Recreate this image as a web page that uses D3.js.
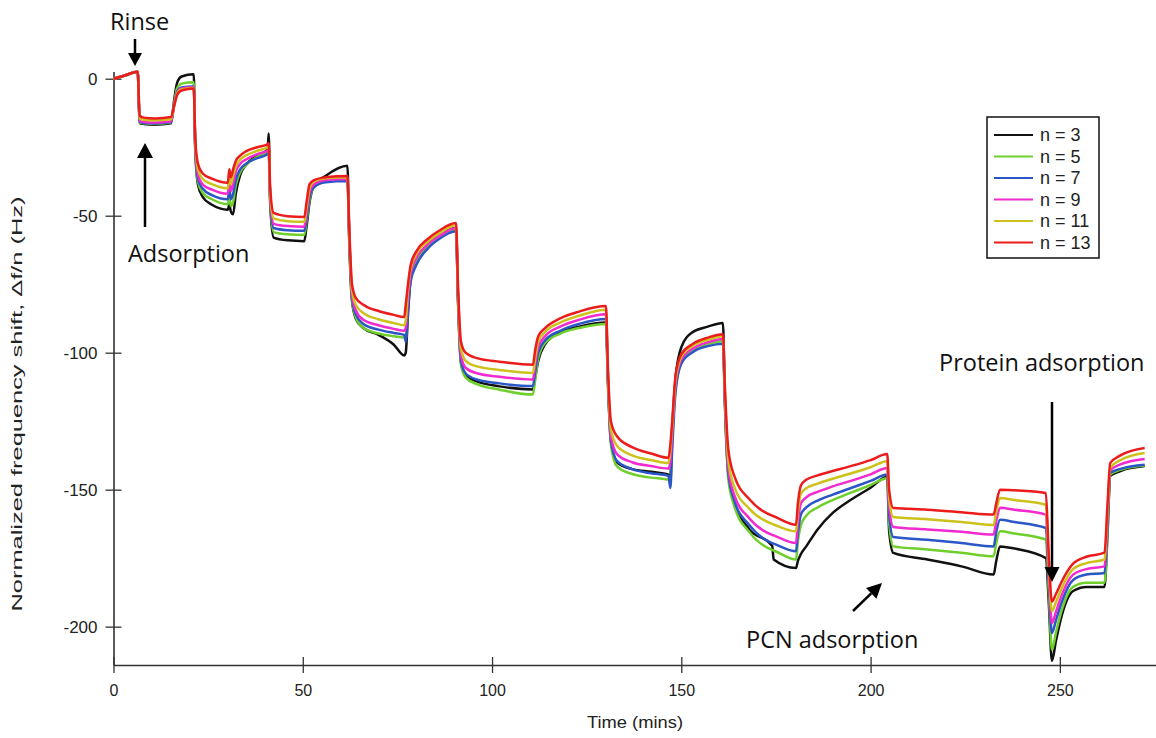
<!doctype html>
<meta charset="utf-8">
<style>
  body { margin: 0; background: #fff; }
  svg { display: block; }
</style>
<body>
<script src="https://d3js.org/d3.v7.min.js"></script>
<script>
// time in minutes, one line per segment of the run
var time = [
  0, 3, 6.4,
  6.9, 8, 11, 15.2,
  16.0, 16.8, 18, 21.2,
  21.6, 22.3, 23.5, 26, 30.2,
  30.6, 31.0, 31.6,
  32.3, 33.5, 35, 38, 40.7, 41.0,
  41.4, 42.3, 46, 50.4,
  51.0, 51.8, 53, 56, 61.8,
  62.3, 63.0, 64, 66, 70, 74, 76.8, 77.2,
  77.8, 78.5, 80, 83, 86, 90.5,
  91.0, 91.8, 93, 96, 102, 110.8,
  111.4, 112.2, 114, 118, 123, 130.1,
  130.6, 131.4, 133, 137, 142, 146.6, 147.1,
  147.6, 148.5, 150, 153, 157, 161,
  161.5, 162.4, 164, 168, 174, 174.4, 180.3,
  180.8, 181.6, 183, 186, 190, 195, 200, 204.4,
  204.9, 206, 215, 224, 232.5,
  233.2, 234.2, 238, 246.3,
  247.1, 247.9, 249, 250.5, 253.5, 257, 261.8,
  262.6, 263.3, 266, 272.4
];

// normalized frequency shift (Hz) for each overtone
var n3 = [
  0, 1.2, 2.5,
  -16.2, -16.5, -16.8, -16.3,
  -8, -1.5, 0.8, 1.6,
  -26, -38.5, -43, -46, -47.8,
  -46, -48.5, -49.5,
  -42, -35, -31.5, -28, -26, -20,
  -46, -58, -59, -59.3,
  -54, -45, -39, -35.5, -31.8,
  -60, -81, -87.5, -91, -93.5, -97, -101, -100,
  -86, -73, -66.5, -60.5, -57, -54.5,
  -80, -103.5, -108, -110.5, -112.3, -113.4,
  -109, -103, -97, -92.5, -90.5, -89,
  -110, -132.5, -140, -142.5, -143.5, -144.5, -145,
  -128, -109, -98, -92.5, -90.5, -89.2,
  -117, -144, -154.5, -164.5, -170.5, -175.5, -178.6,
  -176, -173.5, -170.7, -164.5, -158.5, -153.5, -149.3, -145.3,
  -165, -173.1, -175.5, -178, -181,
  -176, -170.7, -171.5, -175,
  -192, -212.5, -205, -196, -187, -185.5, -185.5,
  -166, -145, -143.2, -141.4
];
var n5 = [
  0, 1.2, 2.5,
  -16, -16.3, -16.5, -16,
  -9, -3.5, -1.8, -1.3,
  -25, -37.5, -41.5, -44, -45.8,
  -43, -46.5, -45,
  -39, -34, -31.5, -28.5, -26.8, -26.5,
  -45, -56, -56.8, -57,
  -52, -44, -39.5, -37, -36.2,
  -60, -80.5, -87, -91, -93, -94, -94.5, -95,
  -82, -72.5, -67, -61, -57.5, -55,
  -81, -104.5, -109, -111.5, -113.5, -115.3,
  -110, -102, -96.5, -93, -91, -89.5,
  -110, -133.5, -141.5, -144.3, -145.6, -146.4, -147.5,
  -132, -113, -103.5, -99, -96.8, -95.8,
  -118, -146, -156, -165.5, -172, -172.2, -175.5,
  -169, -163, -159.5, -156.5, -153.8, -151, -148.3, -145.8,
  -162, -170.7, -171.8, -173, -174.3,
  -169.5, -165.2, -166, -168.2,
  -188, -208.4, -202, -194, -185.5, -184, -184,
  -165, -144.5, -142.8, -141.2
];
var n7 = [
  0, 1.2, 2.5,
  -15.8, -16.2, -16.3, -15.8,
  -9.5, -4.8, -3.2, -2.8,
  -25, -36.5, -40, -42.5, -44,
  -40, -44, -42,
  -37, -33, -31, -29, -27.5, -27,
  -44, -54.5, -55.3, -55.5,
  -51, -43, -39.5, -37.8, -37.3,
  -59, -79.5, -86, -89.5, -91.6, -92.8, -93.5, -96,
  -84, -74, -68, -62, -58.5, -55.7,
  -80, -103, -107.5, -109.8, -111.2, -112.2,
  -107, -100, -95.5, -92, -89.5, -87.7,
  -109, -132, -139.5, -142.5, -144, -145, -149.4,
  -135, -114, -104, -99.8, -97.6, -96.7,
  -117, -144, -154, -163, -169.5, -169.7, -172.5,
  -166, -159, -156.5, -154, -151.8, -149.3, -146.8, -144.5,
  -159, -167.3, -168.3, -169.5, -170.7,
  -165.5, -161, -161.8, -164,
  -184, -202.3, -197.5, -191, -183, -181, -180.4,
  -163, -143.9, -142.4, -140.9
];
var n9 = [
  0, 1.2, 2.5,
  -15.5, -15.8, -16, -15.5,
  -9.8, -5.2, -3.6, -3.1,
  -24, -35, -38.5, -40.5, -42,
  -37, -41, -38.5,
  -34, -31, -29.5, -27.5, -26.3, -26,
  -43, -53, -53.8, -54,
  -49, -41.5, -38.5, -37, -36.6,
  -58, -78.5, -84.5, -88, -90, -91.3, -92, -91,
  -80, -71, -65.5, -60.5, -57.5, -54.5,
  -79, -101, -105.5, -107.5, -108.8, -109.8,
  -104, -98, -94, -90.5, -88, -86,
  -108, -130.5, -137, -140, -141.4, -142.3, -140,
  -129, -111, -102.5, -98.5, -96.2, -95,
  -116, -142, -152, -160.5, -166.5, -166.7, -169.5,
  -162, -155, -152.8, -150.8, -148.8, -146.7, -144.4, -142.1,
  -156, -163.6, -164.5, -165.4, -166.4,
  -161.5, -156.6, -157.3, -159.1,
  -181, -198.7, -194.5, -188.5, -181, -179, -178,
  -160, -143, -140.8, -138.8
];
var n11 = [
  0, 1.2, 2.5,
  -14.5, -15, -15.2, -14.8,
  -10, -5.5, -3.9, -3.4,
  -23, -33, -36.5, -38.5, -40,
  -35, -38.5, -35.5,
  -32, -29.5, -28, -26.3, -25, -24.5,
  -42, -51, -52, -52.2,
  -47, -40, -37.5, -36.3, -36,
  -57, -77, -82.5, -85.5, -87.8, -89.2, -90, -88,
  -77, -69.5, -64, -59.5, -56.5, -53.5,
  -77, -98.5, -103, -105, -106.3, -107.4,
  -102, -96, -92.5, -89, -86.5, -84.3,
  -107, -128, -134, -137.5, -139.2, -140.3, -136,
  -127, -110, -101.5, -97.5, -95.3, -94,
  -114, -139, -149, -157, -162.5, -162.7, -165.2,
  -158, -151.5, -149.5, -147.8, -146, -144, -141.8, -139.6,
  -153, -160, -160.8, -161.8, -162.9,
  -158, -153, -153.8, -155.5,
  -178, -194.4, -191, -186, -179, -176.8, -175.5,
  -158, -142, -139.2, -136.6
];
var n13 = [
  0, 1.2, 2.5,
  -13.5, -14.2, -14.5, -14,
  -10, -6, -4.3, -3.6,
  -22, -31, -34.5, -36.5, -38,
  -33, -36, -33,
  -30, -28, -26.5, -25, -24, -23.5,
  -40, -49, -50.2, -50.5,
  -45, -38.5, -37, -36, -35.5,
  -55, -75, -80, -82.5, -84.8, -86.2, -87, -82.5,
  -75, -68, -63, -58.5, -55.5, -52.7,
  -75, -96, -100, -102, -103.3, -104.4,
  -99, -94, -91, -87.5, -85, -83,
  -105, -125, -130.5, -134.5, -136.8, -138.4, -133.6,
  -125, -108, -100.5, -96.8, -94.5, -93.3,
  -112, -135, -145, -153.5, -159.5, -159.7, -162.8,
  -155, -148.5, -146.4, -144.8, -143.2, -141.3, -139.2, -137,
  -150, -156.7, -157.3, -158.2, -159.1,
  -155, -150, -150.2, -151.2,
  -175, -190.8, -188, -183.5, -177, -174.5, -173,
  -155, -140.3, -137.5, -134.8
];

var labels = ['n = 3', 'n = 5', 'n = 7', 'n = 9', 'n = 11', 'n = 13'];
var colors = ['#111111', '#6fcf2c', '#2a56c6', '#f22ad0', '#cdc21c', '#ec1c1c'];
var xTicks = [0, 50, 100, 150, 200, 250];
var yTicks = [0, -50, -100, -150, -200];

var series = [n3, n5, n7, n9, n11, n13].map(function(vals, i){
  return {
    label: labels[i],
    color: colors[i],
    points: vals.map(function(v, j){ return [time[j], v]; })
  };
});

var W = 1156, H = 738;
var svg = d3.select('body').append('svg').attr('width', W).attr('height', H);

var x = d3.scaleLinear().domain([0, 275.4]).range([113.5, 1156]);
var y = d3.scaleLinear().domain([-214, 2.6]).range([665, 71.6]);

var tickFont = '"Liberation Sans", Arial, sans-serif';
var plain = function(d){ return String(d); }; // plain hyphen minus like the original

// x axis, ticks cross the line
var gx = svg.append('g')
  .attr('transform', 'translate(0,665)')
  .call(d3.axisBottom(x).tickValues(xTicks).tickFormat(plain).tickSize(8).tickSizeOuter(0).tickPadding(12));
gx.selectAll('.tick line').attr('y1', -8);
gx.select('.domain').attr('stroke', '#333').attr('stroke-width', 1.6);
gx.selectAll('.tick line').attr('stroke', '#333').attr('stroke-width', 1.3);
gx.selectAll('text').attr('font-family', tickFont).attr('font-size', 16).attr('fill', '#222');

// y axis
var gy = svg.append('g')
  .attr('transform', 'translate(113.5,0)')
  .call(d3.axisLeft(y).tickValues(yTicks).tickFormat(plain).tickSize(8).tickSizeOuter(0).tickPadding(8));
gy.selectAll('.tick line').attr('x1', 8);
gy.select('.domain').attr('stroke', '#333').attr('stroke-width', 1.6);
gy.selectAll('.tick line').attr('stroke', '#333').attr('stroke-width', 1.3);
gy.selectAll('text').attr('font-family', tickFont).attr('font-size', 17).attr('fill', '#222');

// axis titles
svg.append('text')
  .attr('x', 635).attr('y', 728)
  .attr('text-anchor', 'middle')
  .attr('font-family', tickFont).attr('font-size', 17).attr('fill', '#222')
  .attr('textLength', 96).attr('lengthAdjust', 'spacingAndGlyphs')
  .text('Time (mins)');

svg.append('text')
  .attr('transform', 'translate(22,404) rotate(-90)')
  .attr('text-anchor', 'middle')
  .attr('font-family', tickFont).attr('font-size', 15).attr('fill', '#222')
  .attr('textLength', 415).attr('lengthAdjust', 'spacingAndGlyphs')
  .text('Normalized frequency shift, \u0394f/n (Hz)');

// traces
var line = d3.line()
  .x(function(d){ return x(d[0]); })
  .y(function(d){ return y(d[1]); })
  .curve(d3.curveMonotoneX);

svg.append('g').selectAll('path')
  .data(series)
  .enter().append('path')
    .attr('d', function(s){ return line(s.points); })
    .attr('fill', 'none')
    .attr('stroke', function(s){ return s.color; })
    .attr('stroke-width', 2.5)
    .attr('stroke-linejoin', 'round');

// legend
var legend = svg.append('g').attr('transform', 'translate(987,117)');
legend.append('rect')
  .attr('width', 112).attr('height', 141)
  .attr('fill', '#fff').attr('stroke', '#111').attr('stroke-width', 1.5);
var item = legend.selectAll('.item')
  .data(series)
  .enter().append('g')
    .attr('transform', function(s, i){ return 'translate(0,' + (18 + i * 21.5) + ')'; });
item.append('line')
  .attr('x1', 7).attr('x2', 46)
  .attr('stroke', function(s){ return s.color; }).attr('stroke-width', 2);
item.append('text')
  .attr('x', 53).attr('y', 6)
  .attr('font-family', tickFont).attr('font-size', 18).attr('fill', '#222')
  .text(function(s){ return s.label; });

// annotations
var noteFont = '"Open Sans", "Noto Sans", sans-serif';
var notes = [
  {text: 'Rinse', x: 110, y: 30},
  {text: 'Adsorption', x: 128, y: 262},
  {text: 'Protein adsorption', x: 939, y: 371},
  {text: 'PCN adsorption', x: 746, y: 648}
];
svg.append('g').selectAll('text')
  .data(notes)
  .enter().append('text')
    .attr('x', function(d){ return d.x; })
    .attr('y', function(d){ return d.y; })
    .attr('font-family', noteFont).attr('font-size', 23.5).attr('fill', '#111')
    .text(function(d){ return d.text; });

function arrow(x1, y1, x2, y2, head, half){
  var a = Math.atan2(y2 - y1, x2 - x1);
  var bx = x2 - head * Math.cos(a), by = y2 - head * Math.sin(a);
  var px = -Math.sin(a) * half, py = Math.cos(a) * half;
  svg.append('line')
    .attr('x1', x1).attr('y1', y1).attr('x2', bx).attr('y2', by)
    .attr('stroke', '#000').attr('stroke-width', 2.5);
  svg.append('path')
    .attr('d', 'M' + x2 + ',' + y2 + 'L' + (bx + px) + ',' + (by + py) + 'L' + (bx - px) + ',' + (by - py) + 'Z')
    .attr('fill', '#000');
}
arrow(135, 39, 135, 66, 13, 7);
arrow(145, 227, 145, 143, 15, 8);
arrow(853, 611, 882, 583, 15, 7.5);
arrow(1052, 402, 1052, 582, 15, 7.5);
</script>
</body>
